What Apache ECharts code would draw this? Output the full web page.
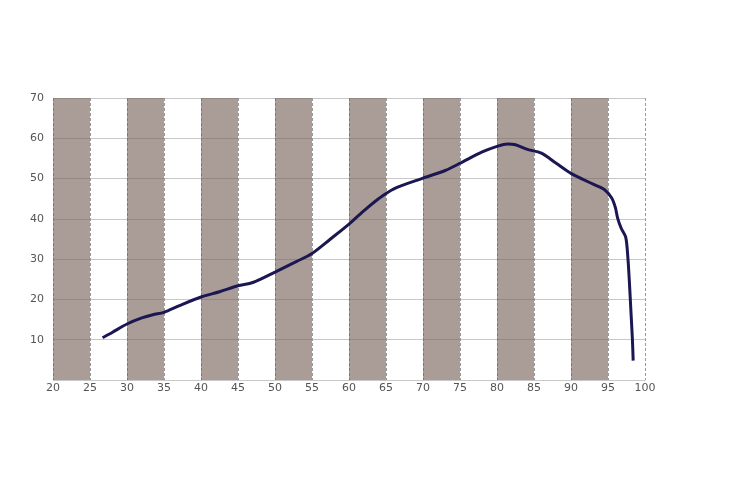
<!DOCTYPE html>
<html><head><meta charset="utf-8">
<script src="https://cdn.jsdelivr.net/npm/echarts@6/dist/echarts.min.js"></script>
<style>html,body{margin:0;padding:0;background:#fff}#c{width:750px;height:483px}</style>
</head><body><div id="c"></div>
<script>
const xs = [26.7, 28, 30, 32, 33.5, 35, 37, 40, 42.5, 45, 47, 50, 53, 55, 57.5, 60, 62, 64, 66, 70, 73, 75, 78, 80, 81.4, 82.5, 84, 86, 88, 90, 93, 94.5, 95.5, 96, 96.3, 96.8, 97.4, 97.7, 97.9, 98.1, 98.3, 98.4];
const ys = [10.5, 11.8, 13.9, 15.4, 16.2, 16.8, 18.4, 20.6, 21.9, 23.4, 24.2, 26.8, 29.5, 31.4, 35, 38.7, 42, 45, 47.4, 50.1, 52, 53.8, 56.6, 58, 58.6, 58.4, 57.3, 56.3, 53.8, 51.3, 48.6, 47.3, 45.2, 42.8, 40.2, 37.6, 35.4, 30, 24, 17, 10, 4.8];
const bandStarts = [20, 30, 40, 50, 60, 70, 80, 90];
const bandWidth = 5;
const xTicks = [20, 100, 5];
const yTicks = [0, 70, 10];

const data = xs.map((x, i) => [x, ys[i]]);
const chart = echarts.init(document.getElementById('c'), null, {renderer: 'canvas'});
chart.setOption({
  animation: false,
  backgroundColor: '#fff',
  grid: {left: 53, right: 105, top: 98, bottom: 103},
  xAxis: {
    type: 'value', min: xTicks[0], max: xTicks[1], interval: xTicks[2],
    axisLine: {show: true, lineStyle: {color: '#c8c8c8'}},
    axisTick: {show: false},
    axisLabel: {color: '#555', fontSize: 11, fontFamily: 'DejaVu Sans', margin: 3},
    splitLine: {show: true, lineStyle: {color: '#999', type: [3, 2], width: 1}}
  },
  yAxis: {
    type: 'value', min: yTicks[0], max: yTicks[1], interval: yTicks[2],
    axisLine: {show: false},
    axisTick: {show: false},
    axisLabel: {color: '#555', fontSize: 11, fontFamily: 'DejaVu Sans', margin: 9,
      formatter: v => v === 0 ? '' : String(v)},
    splitLine: {show: true, lineStyle: {color: '#c8c8c8', width: 1}}
  },
  series: [{
    type: 'line',
    data: data,
    smooth: 0.3,
    showSymbol: false,
    symbol: 'none',
    lineStyle: {color: '#1b1752', width: 3},
    z: 5,
    markArea: {
      silent: true,
      itemStyle: {color: 'rgba(118,96,86,0.62)'},
      data: bandStarts.map(s => [{xAxis: s}, {xAxis: s + bandWidth}])
    }
  }]
});
</script></body></html>
